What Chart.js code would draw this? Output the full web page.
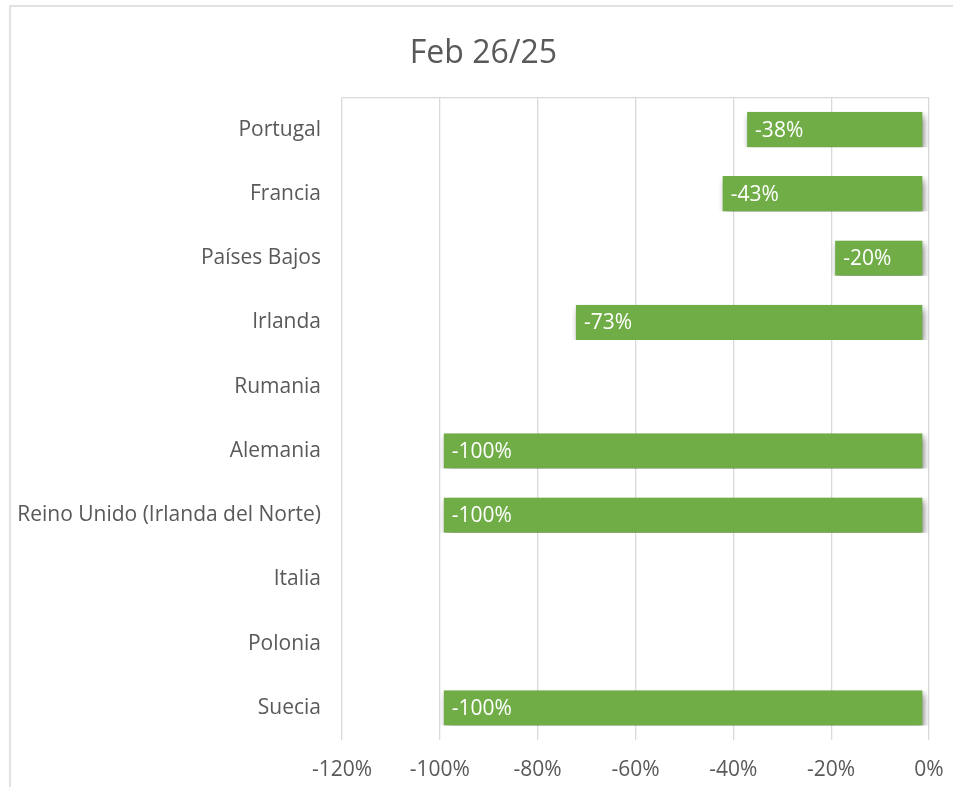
<!DOCTYPE html>
<html>
<head>
<meta charset="utf-8">
<script src="https://cdn.jsdelivr.net/npm/chart.js@4/dist/chart.umd.min.js"></script>
<style>
  html, body { margin: 0; padding: 0; background: #fff; overflow: hidden; }
  #frame { position: absolute; left: 9px; top: 5px; width: 1000px; height: 900px;
           border-left: 2px solid #e2e2e2; border-top: 2px solid #e2e2e2; }
  #wrap { position: absolute; left: 0; top: 0; width: 953px; height: 787px; }
</style>
</head>
<body>
<div id="frame"></div>
<div id="wrap"><canvas id="chart-feb"></canvas></div>
<script>
// Data definitions
const countries = ['Portugal', 'Francia', 'Países Bajos', 'Irlanda', 'Rumania', 'Alemania',
  'Reino Unido (Irlanda del Norte)', 'Italia', 'Polonia', 'Suecia'];
const changeFeb = [-0.38, -0.43, -0.20, -0.73, 0, -1.00, -1.00, 0, 0, -1.00];
const chartTitle = 'Feb 26/25';

const fontFamily = "'Open Sans', 'Liberation Sans', sans-serif";
const greyText = '#595959';
const gridGrey = '#d9d9d9';

function pct(v) {
  return Math.round(v * 100) + '%';
}

// soft drop shadow under the bars, then white value labels at the bar end
const barShadow = {
  id: 'barShadow',
  afterLayout(chart) {
    // centre the title on the whole chart frame, not on the canvas
    chart.titleBlock.left += 19;
    chart.titleBlock.right += 19;
  },
  beforeDatasetsDraw(chart) {
    const ctx = chart.ctx;
    ctx.save();
    ctx.shadowColor = 'rgba(0, 0, 0, 0.55)';
    ctx.shadowBlur = 7;
    ctx.shadowOffsetX = 2;
    ctx.shadowOffsetY = 4;
  },
  afterDatasetsDraw(chart) {
    const ctx = chart.ctx;
    ctx.restore();
    const meta = chart.getDatasetMeta(0);
    ctx.save();
    ctx.font = '21px ' + fontFamily;
    ctx.fillStyle = '#ffffff';
    ctx.textBaseline = 'middle';
    ctx.textAlign = 'left';
    meta.data.forEach((bar, i) => {
      const left = Math.min(bar.x, bar.base);
      ctx.fillText(pct(changeFeb[i]), left + 12, bar.y + 1);
    });
    ctx.restore();
  }
};

const chartFeb = new Chart(document.getElementById('chart-feb').getContext('2d'), {
  type: 'bar',
  data: {
    labels: countries,
    datasets: [{
      label: chartTitle,
      data: changeFeb,
      backgroundColor: '#70ad47',
      borderColor: 'rgba(0, 0, 0, 0)',
      borderWidth: { left: 4, right: 6, top: 0, bottom: 0 },
      borderSkipped: false,
      barPercentage: 0.55,
      categoryPercentage: 1
    }]
  },
  options: {
    indexAxis: 'y',
    responsive: true,
    maintainAspectRatio: false,
    animation: false,
    layout: { padding: { top: 0, right: 24, bottom: 5, left: 0 } },
    plugins: {
      legend: { display: false },
      tooltip: { enabled: false },
      title: {
        display: true,
        text: chartTitle,
        color: greyText,
        font: { family: fontFamily, size: 32, weight: 'normal' },
        padding: { top: 35, bottom: 24 }
      }
    },
    scales: {
      x: {
        min: -1.2,
        max: 0,
        afterFit(scale) {
          scale.height = 42;
          scale.paddingRight = 0;
        },
        ticks: {
          stepSize: 0.2,
          color: greyText,
          padding: 17,
          font: { family: fontFamily, size: 21 },
          callback: v => pct(v)
        },
        grid: { color: gridGrey, lineWidth: 1.3, drawTicks: false },
        border: { display: false }
      },
      y: {
        afterFit(scale) { scale.width = 342; },
        ticks: {
          color: greyText,
          padding: 21,
          font: { family: fontFamily, size: 21 }
        },
        grid: {
          drawTicks: false,
          lineWidth: 1.3,
          color: ctx => ctx.index === 0 ? gridGrey : 'rgba(0, 0, 0, 0)'
        },
        border: { display: false }
      }
    }
  },
  plugins: [barShadow]
});
</script>
</body>
</html>
